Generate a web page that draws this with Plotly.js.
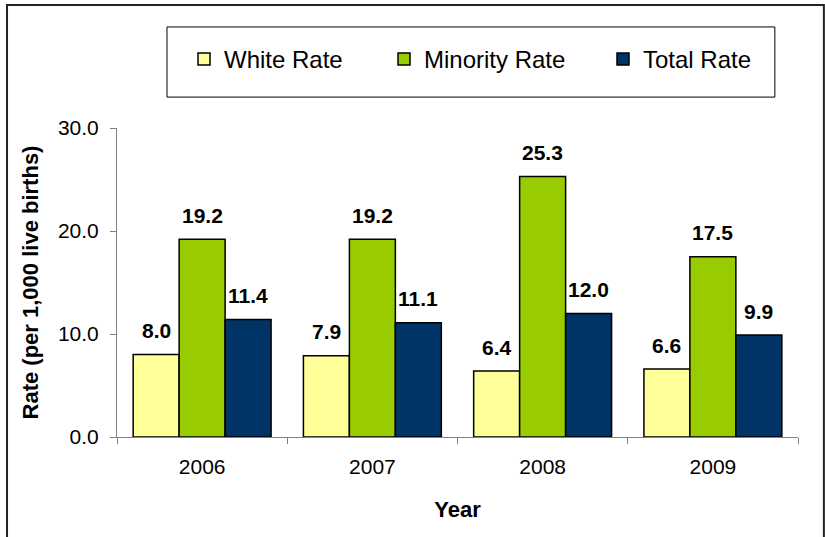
<!DOCTYPE html>
<html>
<head>
<meta charset="utf-8">
<script src="https://cdn.plot.ly/plotly-3.0.1.min.js"></script>
<style>
  html, body { margin: 0; padding: 0; background: #ffffff; }
  #chart { width: 825px; height: 537px; }
</style>
</head>
<body>
<div id="chart"></div>
<script>
// Infant mortality rates by year, per 1,000 live births
const years = ['2006', '2007', '2008', '2009'];
const whiteRate = [8.0, 7.9, 6.4, 6.6];
const minorityRate = [19.2, 19.2, 25.3, 17.5];
const totalRate = [11.4, 11.1, 12.0, 9.9];

const seriesNames = ['White Rate', 'Minority Rate', 'Total Rate'];
const seriesColors = ['#FFFF99', '#99CC00', '#003366'];
const seriesValues = [whiteRate, minorityRate, totalRate];
// horizontal room reserved for each legend entry's label
const legendWidths = [155, 174, 120];

const FONT = 'Liberation Sans, Arial, sans-serif';
const BARGAP = 0.19;
const barUnit = (1 - BARGAP) / seriesValues.length;

const traces = seriesValues.map((vals, k) => ({
  type: 'bar',
  name: seriesNames[k],
  x: years,
  y: vals,
  legendwidth: legendWidths[k],
  marker: { color: seriesColors[k], line: { color: '#000000', width: 1.5 } },
  hoverinfo: 'none'
}));

// value labels above each bar
const annotations = [];
seriesValues.forEach((vals, k) => {
  vals.forEach((v, i) => {
    annotations.push({
      x: i + (k - 1) * barUnit,
      y: v,
      xref: 'x', yref: 'y',
      text: v.toFixed(1),
      showarrow: false,
      yanchor: 'middle',
      yshift: 24,
      font: { family: FONT, size: 21, color: '#000000', weight: 'bold' }
    });
  });
});

const layout = {
  width: 825,
  height: 537,
  margin: { l: 117, r: 27, t: 128, b: 100 },
  paper_bgcolor: '#ffffff',
  plot_bgcolor: '#ffffff',
  barmode: 'group',
  bargap: BARGAP,
  bargroupgap: 0,
  font: { family: FONT, size: 21, color: '#000000' },
  showlegend: true,
  legend: {
    orientation: 'h',
    x: 0.0984, xanchor: 'left',
    y: 1.222, yanchor: 'middle',
    bgcolor: 'rgba(0,0,0,0)',
    borderwidth: 0,
    font: { family: FONT, size: 24, color: '#000000' },
    traceorder: 'normal'
  },
  xaxis: {
    type: 'category',
    showgrid: false,
    zeroline: false,
    showline: true,
    linecolor: '#808080',
    linewidth: 1,
    ticks: 'outside',
    tickson: 'boundaries',
    ticklen: 6,
    tickcolor: '#808080',
    ticklabelstandoff: 11,
    tickfont: { family: FONT, size: 21, color: '#000000' },
    title: {
      text: 'Year',
      font: { family: FONT, size: 22, color: '#000000', weight: 'bold' },
      standoff: 24
    }
  },
  yaxis: {
    range: [0, 30],
    tickvals: [0, 10, 20, 30],
    tickformat: '.1f',
    showgrid: false,
    zeroline: false,
    showline: true,
    linecolor: '#808080',
    linewidth: 1,
    ticks: 'outside',
    ticklen: 6,
    tickcolor: '#808080',
    ticklabelstandoff: 7,
    tickfont: { family: FONT, size: 21, color: '#000000' },
    title: {
      text: 'Rate (per 1,000 live births)',
      font: { family: FONT, size: 22, color: '#000000', weight: 'bold' },
      standoff: 13
    }
  },
  annotations: annotations,
  shapes: [
    // legend frame
    {
      type: 'rect', xref: 'paper', yref: 'paper',
      x0: 0.0734, x1: 0.966, y0: 1.100, y1: 1.327,
      line: { color: '#000000', width: 1 },
      fillcolor: 'rgba(0,0,0,0)'
    },
    // outer chart frame
    {
      type: 'rect', xref: 'paper', yref: 'paper',
      x0: -0.1615, x1: 1.038, y0: -0.36, y1: 1.398,
      line: { color: '#222222', width: 2 },
      fillcolor: 'rgba(0,0,0,0)'
    }
  ]
};

Plotly.newPlot('chart', traces, layout, { staticPlot: true, displayModeBar: false });
</script>
</body>
</html>
